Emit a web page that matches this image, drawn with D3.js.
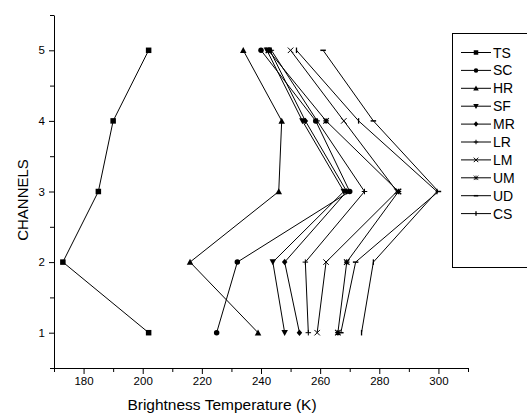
<!DOCTYPE html>
<html>
<head>
<meta charset="utf-8">
<script src="https://cdn.jsdelivr.net/npm/d3@7"></script>
<style>
	body { margin: 0; background: #fff; }
	svg { font-family: 'Liberation Sans', Arial, sans-serif; }
</style>
</head>
<body>
<svg id="chart"></svg>
<script>
// Data (brightness temperature in K per channel)
const channels = [1, 2, 3, 4, 5];
const seriesNames = ['TS', 'SC', 'HR', 'SF', 'MR', 'LR', 'LM', 'UM', 'UD', 'CS'];
const tsValues = [202, 173, 185, 190, 202];
const scValues = [225, 232, 270, 258.5, 240];
const hrValues = [239, 216, 246, 247, 234];
const sfValues = [248, 244, 268, 254, 242];
const mrValues = [253, 248, 269, 255, 243];
const lrValues = [256, 255, 275, 259, 243.5];
const lmValues = [259, 262, 286, 268, 250];
const umValues = [266, 269, 286.5, 262, 242.5];
const udValues = [267, 272, 300, 278, 261];
const csValues = [274, 278, 299.5, 273, 252];
const xTicks = [180, 200, 220, 240, 260, 280, 300];
const xMinorTicks = [170, 190, 210, 230, 250, 270, 290, 310];
const yTicks = [1, 2, 3, 4, 5];
const yMinorTicks = [0.5, 1.5, 2.5, 3.5, 4.5, 5.5];

const seriesValues = [tsValues, scValues, hrValues, sfValues, mrValues,
	lrValues, lmValues, umValues, udValues, csValues];
const markerTypes = ['square', 'circle', 'up', 'down', 'diamond',
	'plus', 'cross', 'star', 'hbar', 'vbar'];

const width = 527, height = 415;

const svg = d3.select('#chart')
	.attr('width', width)
	.attr('height', height);

// scales
const xScale = d3.scaleLinear().domain([170, 310]).range([54, 468]);
const yScale = d3.scaleLinear().domain([0.5, 5.5]).range([368, 15]);

// axes
svg.append('g')
	.attr('transform', `translate(0,${yScale(0.5)})`)
	.call(d3.axisBottom(xScale).tickValues(xTicks).tickSize(6).tickSizeOuter(0).tickPadding(3));
svg.append('g')
	.attr('transform', `translate(0,${yScale(0.5)})`)
	.call(d3.axisBottom(xScale).tickValues(xMinorTicks).tickSize(4).tickFormat('').tickSizeOuter(0))
	.select('.domain').remove();

svg.append('g')
	.attr('transform', `translate(${xScale(170)},0)`)
	.call(d3.axisLeft(yScale).tickValues(yTicks).tickSize(5).tickSizeOuter(0).tickPadding(4)
		.tickFormat(d3.format('d')));
svg.append('g')
	.attr('transform', `translate(${xScale(170)},0)`)
	.call(d3.axisLeft(yScale).tickValues(yMinorTicks).tickSize(4).tickFormat('').tickSizeOuter(0))
	.select('.domain').remove();

svg.selectAll('.tick text')
	.attr('font-size', 11.5)
	.attr('font-family', "'Liberation Sans', Arial, sans-serif")
	.attr('fill', '#000');
svg.selectAll('.domain, .tick line').attr('stroke', '#000');

// axis titles
svg.append('text')
	.attr('x', 222)
	.attr('y', 410)
	.attr('text-anchor', 'middle')
	.attr('font-size', 15.5)
	.text('Brightness Temperature (K)');

svg.append('text')
	.attr('transform', 'translate(28,200) rotate(-90)')
	.attr('text-anchor', 'middle')
	.attr('font-size', 15)
	.text('CHANNELS');

// marker drawing
function drawMarker(g, type, s, sw) {
	const h = s / 2;
	switch (type) {
		case 'square':
			g.append('rect').attr('x', -h).attr('y', -h).attr('width', s).attr('height', s).attr('fill', '#000');
			break;
		case 'circle':
			g.append('circle').attr('r', h).attr('fill', '#000');
			break;
		case 'up':
			g.append('path').attr('d', `M0,${-h - 0.5}L${h + 0.5},${h}L${-h - 0.5},${h}Z`).attr('fill', '#000');
			break;
		case 'down':
			g.append('path').attr('d', `M0,${h + 0.5}L${h + 0.5},${-h}L${-h - 0.5},${-h}Z`).attr('fill', '#000');
			break;
		case 'diamond':
			g.append('path').attr('d', `M0,${-h - 0.5}L${h},0L0,${h + 0.5}L${-h},0Z`).attr('fill', '#000');
			break;
		case 'plus':
			g.append('path').attr('d', `M${-h},0H${h}M0,${-h}V${h}`).attr('stroke', '#000');
			break;
		case 'cross':
			g.append('path').attr('d', `M${-h},${-h}L${h},${h}M${-h},${h}L${h},${-h}`).attr('stroke', '#000');
			break;
		case 'star':
			g.append('path').attr('d', `M${-h},${-h}L${h},${h}M${-h},${h}L${h},${-h}M${-h},0H${h}M0,${-h}V${h}`)
				.attr('stroke', '#000').attr('stroke-width', sw);
			break;
		case 'hbar':
			g.append('path').attr('d', `M${-h},0H${h}`).attr('stroke', '#000').attr('stroke-width', 1.5);
			break;
		case 'vbar':
			g.append('path').attr('d', `M0,${-h}V${h}`).attr('stroke', '#000').attr('stroke-width', 1.3);
			break;
	}
}

// lines (x = temperature, y = channel)
const line = d3.line()
	.x(d => xScale(d.t))
	.y(d => yScale(d.c));

const plot = svg.append('g');

seriesNames.forEach((name, i) => {
	const pts = channels.map((c, j) => ({ c: c, t: seriesValues[i][j] }));
	plot.append('path')
		.datum(pts)
		.attr('fill', 'none')
		.attr('stroke', '#000')
		.attr('stroke-width', 1)
		.attr('d', line);
	pts.forEach(p => {
		const mg = plot.append('g')
			.attr('transform', `translate(${xScale(p.t)},${yScale(p.c)})`);
		drawMarker(mg, markerTypes[i], 5.5, 1.2);
	});
});

// legend
const legend = svg.append('g').attr('transform', 'translate(452,33)');
legend.append('rect')
	.attr('x', 0.5).attr('y', 0.5)
	.attr('width', 100).attr('height', 234)
	.attr('fill', 'none').attr('stroke', '#000');

seriesNames.forEach((name, i) => {
	const row = legend.append('g').attr('transform', `translate(0,${19.5 + i * 17.9})`);
	row.append('line')
		.attr('x1', 9).attr('x2', 39)
		.attr('stroke', '#000');
	const mg = row.append('g').attr('transform', 'translate(24,0)');
	drawMarker(mg, markerTypes[i], 4.5, 0.8);
	row.append('text')
		.attr('x', 41)
		.attr('y', 5)
		.attr('font-size', 14)
		.text(name);
});
</script>
</body>
</html>
